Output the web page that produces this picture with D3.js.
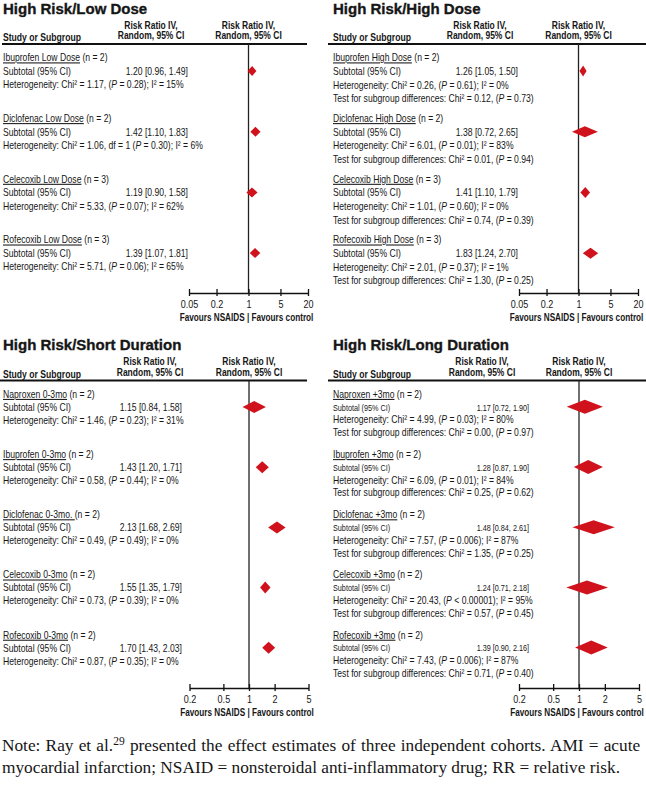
<!DOCTYPE html>
<html>
<head>
<meta charset="utf-8">
<script src="https://cdn.jsdelivr.net/npm/d3@7"></script>
<style>
  body { margin: 0; background: #fff; }
  text { font-family: "Liberation Sans", Arial, sans-serif; fill: #161616; }
  .note { font-family: "Liberation Serif", "Times New Roman", serif; }
</style>
</head>
<body>
<svg id="chart" width="646" height="787"></svg>
<script>

// ---- data ----
var doseTicks = [0.05, 0.2, 1, 5, 20];
var durationTicks = [0.2, 0.5, 1, 2, 5];

var lowDoseDrugs = ["Ibuprofen Low Dose", "Diclofenac Low Dose", "Celecoxib Low Dose", "Rofecoxib Low Dose"];
var lowDoseN = [2, 2, 3, 3];
var lowDoseRR = [1.20, 1.42, 1.19, 1.39];
var lowDoseLo = [0.96, 1.10, 0.90, 1.07];
var lowDoseHi = [1.49, 1.83, 1.58, 1.81];
var lowDoseChi = ["1.17", "1.06", "5.33", "5.71"];
var lowDoseDf = [null, "1", null, null];
var lowDoseP = ["0.28", "0.30", "0.07", "0.06"];
var lowDoseI2 = [15, 6, 62, 65];

var highDoseDrugs = ["Ibuprofen High Dose", "Diclofenac High Dose", "Celecoxib High Dose", "Rofecoxib High Dose"];
var highDoseN = [2, 2, 3, 3];
var highDoseRR = [1.26, 1.38, 1.41, 1.83];
var highDoseLo = [1.05, 0.72, 1.10, 1.24];
var highDoseHi = [1.50, 2.65, 1.79, 2.70];
var highDoseChi = ["0.26", "6.01", "1.01", "2.01"];
var highDoseP = ["0.61", "0.01", "0.60", "0.37"];
var highDoseI2 = [0, 83, 0, 1];
var highDoseTestChi = ["0.12", "0.01", "0.74", "1.30"];
var highDoseTestP = ["0.73", "0.94", "0.39", "0.25"];

var shortDrugs = ["Naproxen 0-3mo", "Ibuprofen 0-3mo", "Diclofenac 0-3mo. ", "Celecoxib 0-3mo", "Rofecoxib 0-3mo"];
var shortN = [2, 2, 2, 2, 2];
var shortRR = [1.15, 1.43, 2.13, 1.55, 1.70];
var shortLo = [0.84, 1.20, 1.68, 1.35, 1.43];
var shortHi = [1.58, 1.71, 2.69, 1.79, 2.03];
var shortChi = ["1.46", "0.58", "0.49", "0.73", "0.87"];
var shortP = ["0.23", "0.44", "0.49", "0.39", "0.35"];
var shortI2 = [31, 0, 0, 0, 0];

var longDrugs = ["Naproxen +3mo", "Ibuprofen +3mo", "Diclofenac +3mo", "Celecoxib +3mo", "Rofecoxib +3mo"];
var longN = [2, 2, 2, 2, 2];
var longRR = [1.17, 1.28, 1.48, 1.24, 1.39];
var longLo = [0.72, 0.87, 0.84, 0.71, 0.90];
var longHi = [1.90, 1.90, 2.61, 2.18, 2.16];
var longChi = ["4.99", "6.09", "7.57", "20.43", "7.43"];
var longP = ["0.03", "0.01", "0.006", "<0.00001", "0.006"];
var longI2 = [80, 84, 87, 95, 87];
var longTestChi = ["0.00", "0.25", "1.35", "0.57", "0.71"];
var longTestP = ["0.97", "0.62", "0.25", "0.45", "0.40"];

var noteLines = [
  ["Note: Ray et al.", "29", " presented the effect estimates of three independent cohorts. AMI = acute"],
  ["myocardial infarction; NSAID = nonsteroidal anti-inflammatory drug; RR = relative risk."]
];

// ---- layout ----
var SX = 0.82;   // narrow face
var RED = "#d0121c";

var panels = [
  { title: "High Risk/Low Dose", drugs: lowDoseDrugs, n: lowDoseN, rr: lowDoseRR, lo: lowDoseLo, hi: lowDoseHi,
    chi: lowDoseChi, df: lowDoseDf, p: lowDoseP, i2: lowDoseI2, testChi: null, testP: null,
    ticks: doseTicks, range: [189, 308], left: 3, top: 8.5, rule: [2, 307], valRight: 188, col1: 151,
    groupStep: 60.7, rowStep: 13.5, axisY: 293, dh: 10, subSize: 10.5, subSX: SX },
  { title: "High Risk/High Dose", drugs: highDoseDrugs, n: highDoseN, rr: highDoseRR, lo: highDoseLo, hi: highDoseHi,
    chi: highDoseChi, df: null, p: highDoseP, i2: highDoseI2, testChi: highDoseTestChi, testP: highDoseTestP,
    ticks: doseTicks, range: [519, 638], left: 333, top: 8.5, rule: [328, 646], valRight: 518, col1: 480,
    groupStep: 60.7, rowStep: 13.6, axisY: 293, dh: 11, subSize: 10.5, subSX: SX },
  { title: "High Risk/Short Duration", drugs: shortDrugs, n: shortN, rr: shortRR, lo: shortLo, hi: shortHi,
    chi: shortChi, df: null, p: shortP, i2: shortI2, testChi: null, testP: null,
    ticks: durationTicks, range: [189.5, 308.5], left: 3, top: 345, rule: [0, 307], valRight: 182, col1: 150,
    groupStep: 60.2, rowStep: 13, axisY: 688, dh: 12, subSize: 10.5, subSX: SX },
  { title: "High Risk/Long Duration", drugs: longDrugs, n: longN, rr: longRR, lo: longLo, hi: longHi,
    chi: longChi, df: null, p: longP, i2: longI2, testChi: longTestChi, testP: longTestP,
    ticks: durationTicks, range: [519, 639], left: 333, top: 345, rule: [328, 646], valRight: 529, col1: 482,
    groupStep: 60.2, rowStep: 12.8, axisY: 688, dh: 14, subSize: 9.8, subSX: 0.74 }
];

var svg = d3.select("#chart");

function put(g, x, y, size, anchor, weight, sx) {
  return g.append("text")
    .attr("transform", "translate(" + x + "," + y + ") scale(" + (sx || SX) + ",1)")
    .attr("font-size", size)
    .attr("text-anchor", anchor || "start")
    .attr("font-weight", weight || "normal");
}

function pText(t, p) {
  // p is the value, or "<value"
  t.append("tspan").text("(");
  t.append("tspan").attr("font-style", "italic").text("P");
  if (p.charAt(0) === "<") t.append("tspan").text(" < " + p.slice(1) + ")");
  else t.append("tspan").text(" = " + p + ")");
}

panels.forEach(function(pn) {
  var g = svg.append("g");
  var x = d3.scaleLog().domain([pn.ticks[0], pn.ticks[pn.ticks.length - 1]]).range(pn.range);
  var x1 = x(1);
  var ruleY = pn.top + 35.5;
  var firstY = pn.top + 49;

  // title
  put(g, pn.left, pn.top + 5.3, 15, "start", "bold", 1)
    .attr("stroke", "#161616").attr("stroke-width", 0.35)
    .text(pn.title);

  // column headers
  [pn.col1, x1].forEach(function(cx) {
    put(g, cx, pn.top + 20, 10, "middle", "bold", 0.85).text("Risk Ratio IV,");
    put(g, cx, pn.top + 30.5, 10, "middle", "bold", 0.85).text("Random, 95% CI");
  });
  put(g, pn.left, pn.top + 32.5, 10.5, "start", "bold").text("Study or Subgroup");

  g.append("line")
    .attr("x1", pn.rule[0]).attr("x2", pn.rule[1])
    .attr("y1", ruleY).attr("y2", ruleY)
    .attr("stroke", "#111").attr("stroke-width", 2);

  // line of no effect
  g.append("line")
    .attr("x1", x1).attr("x2", x1)
    .attr("y1", ruleY).attr("y2", pn.axisY)
    .attr("stroke", "#222").attr("stroke-width", 1.3);

  // subgroups
  pn.drugs.forEach(function(drug, i) {
    var cy = firstY + i * pn.groupStep;
    var base = 3.8;

    var t = put(g, pn.left, cy + base, 10.5);
    t.append("tspan").attr("text-decoration", "underline").text(drug);
    t.append("tspan").text(" (n = " + pn.n[i] + ")");

    var sy = cy + pn.rowStep;
    put(g, pn.left, sy + base, pn.subSize, "start", "normal", pn.subSX).text("Subtotal (95% CI)");
    put(g, pn.valRight, sy + base, pn.subSize, "end", "normal", pn.subSX)
      .text(pn.rr[i].toFixed(2) + " [" + pn.lo[i].toFixed(2) + ", " + pn.hi[i].toFixed(2) + "]");

    var hy = cy + 2 * pn.rowStep;
    var h = put(g, pn.left, hy + base, 10.5);
    h.append("tspan").text("Heterogeneity: Chi\u00b2 = " + pn.chi[i] + ", " +
      (pn.df && pn.df[i] ? "df = " + pn.df[i] + " " : ""));
    pText(h, pn.p[i]);
    h.append("tspan").text("; I\u00b2 = " + pn.i2[i] + "%");

    if (pn.testChi) {
      var ty = cy + 3 * pn.rowStep;
      var tt = put(g, pn.left, ty + base, 10.5);
      tt.append("tspan").text("Test for subgroup differences: Chi\u00b2 = " + pn.testChi[i] + ", ");
      pText(tt, pn.testP[i]);
    }

    // diamond
    g.append("polygon")
      .attr("points", [
        [x(pn.lo[i]), sy], [x(pn.rr[i]), sy - pn.dh / 2],
        [x(pn.hi[i]), sy], [x(pn.rr[i]), sy + pn.dh / 2]
      ].map(function(d) { return d.join(","); }).join(" "))
      .attr("fill", RED);
  });

  // axis
  var axis = d3.axisBottom(x)
    .tickValues(pn.ticks)
    .tickFormat(function(d) { return String(d); })
    .tickSizeOuter(0)
    .tickSizeInner(3);

  var ax = g.append("g")
    .attr("transform", "translate(0," + pn.axisY + ")")
    .call(axis);
  ax.select(".domain").attr("stroke", "#111").attr("stroke-width", 1.4);
  ax.selectAll(".tick line").attr("y1", -4).attr("y2", 3).attr("stroke", "#111").attr("stroke-width", 1.3);
  ax.selectAll(".tick text")
    .attr("y", 7.5).attr("dy", "0.71em")
    .attr("font-size", 11)
    .attr("font-family", "Liberation Sans, Arial, sans-serif")
    .attr("fill", "#161616")
    .attr("transform", "scale(" + SX + ",1)");

  put(g, x1 - 2, pn.axisY + 27.5, 10, "middle", "bold").text("Favours NSAIDS | Favours control");
});

// note (first line is justified to the full width)
noteLines.forEach(function(parts, i) {
  var t = svg.append("text")
    .attr("class", "note")
    .attr("x", 2)
    .attr("y", 751 + i * 22)
    .attr("font-size", 17.3)
    .attr("word-spacing", i === 0 ? 0.9 : 0)
    .attr("fill", "#111");
  t.append("tspan").text(parts[0]);
  if (parts.length > 1) {
    t.append("tspan").attr("font-size", 11.5).attr("dy", -6.5).text(parts[1]);
    t.append("tspan").attr("dy", 6.5).text(parts[2]);
  }
});

</script>
</body>
</html>
